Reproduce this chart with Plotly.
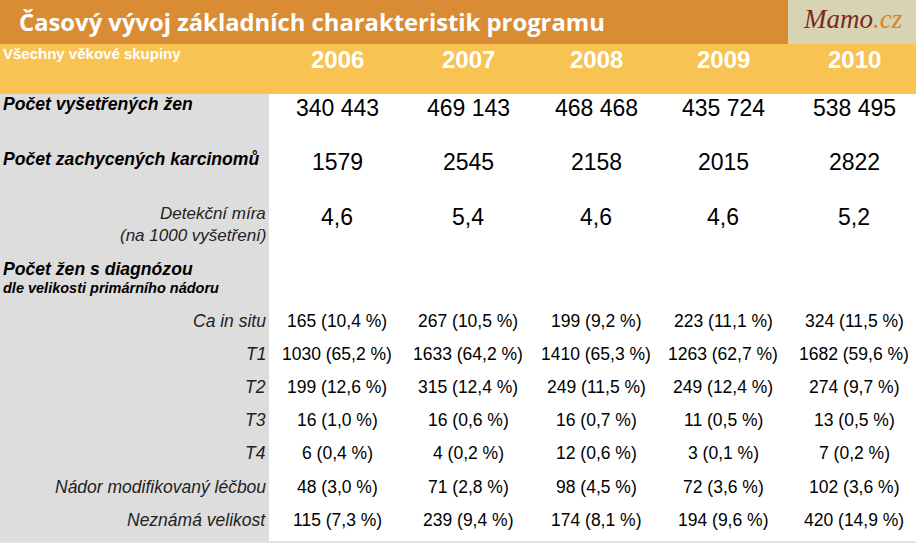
import plotly.graph_objects as go

# ---------------- data ----------------
title_text = "Časový vývoj základních charakteristik programu"
group_label = "Všechny věkové skupiny"
years = [2006, 2007, 2008, 2009, 2010]
examined = [340443, 469143, 468468, 435724, 538495]
cancers = [1579, 2545, 2158, 2015, 2822]
detection_rate = [4.6, 5.4, 4.6, 4.6, 5.2]
size_categories = ["Ca in situ", "T1", "T2", "T3", "T4",
                   "Nádor modifikovaný léčbou", "Neznámá velikost"]
size_counts = [
    [165, 267, 199, 223, 324],
    [1030, 1633, 1410, 1263, 1682],
    [199, 315, 249, 249, 274],
    [16, 16, 16, 11, 13],
    [6, 4, 12, 3, 7],
    [48, 71, 98, 72, 102],
    [115, 239, 174, 194, 420],
]
size_pcts = [
    [10.4, 10.5, 9.2, 11.1, 11.5],
    [65.2, 64.2, 65.3, 62.7, 59.6],
    [12.6, 12.4, 11.5, 12.4, 9.7],
    [1.0, 0.6, 0.7, 0.5, 0.5],
    [0.4, 0.2, 0.6, 0.1, 0.2],
    [3.0, 2.8, 4.5, 3.6, 3.6],
    [7.3, 9.4, 8.1, 9.6, 14.9],
]

# ---------------- layout helpers ----------------
W, H = 916, 544
col_x = [337, 468, 596, 723, 854]
ORANGE = "#DA8C35"
YELLOW = "#F9C354"
GRAY = "#DDDDDD"
LOGO_BG = "#D8D3B3"
TXT = "#000000"
SANS = "Liberation Sans, Arial, sans-serif"


def fmt_thousands(v):
    return f"{v:,}".replace(",", " ")


def fmt_dec(v):
    return f"{v:.1f}".replace(".", ",")


fig = go.Figure()
shapes = [
    dict(type="rect", x0=0, x1=788, y0=0, y1=44, fillcolor=ORANGE, line_width=0, layer="below"),
    dict(type="rect", x0=788, x1=W, y0=0, y1=44, fillcolor=LOGO_BG, line_width=0, layer="below"),
    dict(type="rect", x0=0, x1=W, y0=44, y1=94, fillcolor=YELLOW, line_width=0, layer="below"),
    dict(type="rect", x0=0, x1=269, y0=94, y1=541, fillcolor=GRAY, line_width=0, layer="below"),
    dict(type="line", x0=0, x1=W, y0=542, y1=542, line=dict(color="#E4E4E4", width=2), layer="below"),
]

ann = []


def add(text, x, y, size, color=TXT, xanchor="center", family=SANS):
    ann.append(dict(text=text, x=x, y=y, xref="x", yref="y", showarrow=False,
                    xanchor=xanchor, yanchor="middle",
                    font=dict(size=size, color=color, family=family)))


# title + logo
add(f"<b>{title_text}</b>", 17, 22, 23.8, "white", "left",
    "Open Sans, Noto Sans, sans-serif")
add('<i><span style="color:#7A2A1E">Mamo</span><span style="color:#D9822B">.cz</span></i>',
    853, 19, 27, TXT, "center", "Liberation Serif, serif")

# header band
add(f"<b>{group_label}</b>", 1, 53, 15, "white", "left")
for x, yr in zip(col_x, years):
    add(f"<b>{yr}</b>", x, 59, 24, "white")

# rows labels
add("<b><i>Počet vyšetřených žen</i></b>", 1, 104, 17.6, TXT, "left")
add("<b><i>Počet zachycených karcinomů</i></b>", 1, 159, 17.6, TXT, "left")
add("<i>Detekční míra</i>", 268, 213, 17, "#222222", "right")
add("<i>(na 1000 vyšetření)</i>", 268, 235, 17, "#222222", "right")
add("<b><i>Počet žen s diagnózou</i></b>", 1, 269, 17.6, TXT, "left")
add("<b><i>dle velikosti primárního nádoru</i></b>", 1, 288, 14.5, TXT, "left")

for x, v in zip(col_x, examined):
    add(fmt_thousands(v), x, 108, 23)
for x, v in zip(col_x, cancers):
    add(str(v), x, 162, 23)
for x, v in zip(col_x, detection_rate):
    add(fmt_dec(v), x, 217, 23)

row_y = [321, 354, 387, 420, 453, 487, 520]
for cat, y, cnts, pcts in zip(size_categories, row_y, size_counts, size_pcts):
    add(f"<i>{cat}</i>", 268, y, 17.5, "#222222", "right")
    for x, c, p in zip(col_x, cnts, pcts):
        add(f"{c} ({fmt_dec(p)} %)", x, y, 17.5)

fig.update_layout(
    width=W, height=H,
    margin=dict(l=0, r=0, t=0, b=0),
    paper_bgcolor="white", plot_bgcolor="white",
    xaxis=dict(range=[0, W], visible=False, fixedrange=True),
    yaxis=dict(range=[H, 0], visible=False, fixedrange=True),
    shapes=shapes, annotations=ann, showlegend=False,
)
fig.write_html("out.html", config={"displayModeBar": False},
               post_script="document.body.style.margin='0';document.body.style.overflow='hidden';")
